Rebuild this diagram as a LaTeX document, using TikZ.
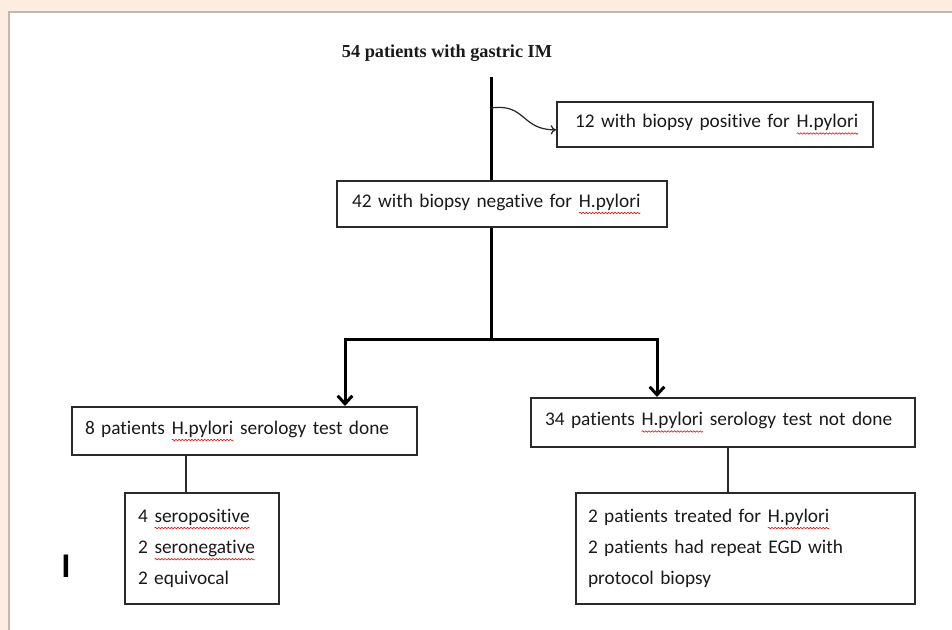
\documentclass[tikz,border=0pt]{standalone}
\usepackage{fontspec}
\setmainfont{Carlito}[Ligatures=NoCommon]
\newfontfamily\titlefont{Liberation Serif}
\usepackage{tikz}
\usetikzlibrary{arrows.meta, decorations.pathmorphing}
\definecolor{pagebg}{HTML}{FCEDE2}
\definecolor{frameline}{HTML}{C4B8AE}
\definecolor{boxline}{HTML}{2A2A2A}
\definecolor{inktext}{HTML}{1A1A1A}
% spell-check wave under a word
\newcommand\squig[1]{\tikz[baseline=(w.base), x=1pt, y=1pt]{\node[inner sep=0pt, outer sep=0pt, minimum size=0pt, text width=, align=none] (w) {#1};
    \draw[red, line width=0.45pt, decorate, decoration={snake, amplitude=0.55pt, segment length=2.4pt}] ([yshift=-4.2pt]w.base west) -- ([yshift=-4.2pt]w.base east);}}
\tikzstyle{stage}=[draw=boxline, line width=1.5pt, align=left, inner ysep=0pt, text=inktext, font=\fontsize{14.5}{23.4}\selectfont]
\tikzstyle{trunk}=[line width=2.25pt, black]
\tikzstyle{branch}=[trunk, -{Straight Barb[length=6pt, width=11pt]}]
\tikzstyle{link}=[line width=1.5pt, boxline]

\begin{document}
\begin{tikzpicture}[x=0.75pt, y=-0.75pt]
        \useasboundingbox (0,0) rectangle (952,630);
        \fill[pagebg] (0,0) rectangle (952,630);
        \fill[white] (9,12) rectangle (952,630);
        \draw[frameline, line width=1.2pt] (9,630) -- (9,12) -- (952,12);
        % top of the chart
        \node[text=inktext, font=\titlefont\bfseries\fontsize{13.7}{16}\selectfont] (title) at (447,53) {54 patients with gastric IM};
        \coordinate (top) at (491,77);
        \node[stage, text width=210pt, inner xsep=13.5pt, minimum height=33.75pt] (pos) at (715,124.5) {\mbox{12 with biopsy positive for \squig{H.pylori}}};
        \node[stage, text width=225pt, inner xsep=11.25pt, minimum height=34.5pt] (neg) at (502,204) {\mbox{42 with biopsy negative for \squig{H.pylori}}};
        % serology split
        \node[stage, text width=239.25pt, inner xsep=9.75pt, minimum height=36pt] (done) at (244.5,431) {\mbox{8 patients \squig{H.pylori} serology test done}};
        \node[stage, text width=267pt, inner xsep=10.5pt, minimum height=36.75pt] (notdone) at (723,422.5) {\mbox{34 patients \squig{H.pylori} serology test not done}};
        \node[stage, text width=96pt, inner xsep=9.75pt, minimum height=83.25pt] (sero) at (202,548.5) {4 \squig{seropositive}\\2 \squig{seronegative}\\2 equivocal};
        \node[stage, text width=236.25pt, inner xsep=9pt, minimum height=83.25pt] (treat) at (745.5,548.5) {2 patients treated for \squig{H.pylori}\\2 patients had repeat EGD with\\protocol biopsy};
        \node[text=black, font=\bfseries\fontsize{26}{30}\selectfont, inner sep=0pt] (mark) at (66,566.5) {I};
        % connectors
        \draw[trunk] (top) -- (top |- neg.north);
        \draw[trunk] (top |- neg.south) -- (top |- 0,340) coordinate (split);
        \coordinate (jl) at (345,340);
        \coordinate (jr) at (657,340);
        \draw[branch] (split) -- (jl) -- (jl |- done.north);
        \draw[branch] (split) -- (jr) -- (jr |- notdone.north);
        \draw[line width=0.9pt, black!85, -{To[length=4pt, width=7pt]}] (top |- 0,108) .. controls (526,103) and (521,130) .. ([yshift=-4pt]pos.west);
        \coordinate (l8) at (186,0);
        \coordinate (l34) at (728,0);
        \draw[link] (l8 |- done.south) -- (l8 |- sero.north);
        \draw[link] (l34 |- notdone.south) -- (l34 |- treat.north);
    \end{tikzpicture}
\end{document}
